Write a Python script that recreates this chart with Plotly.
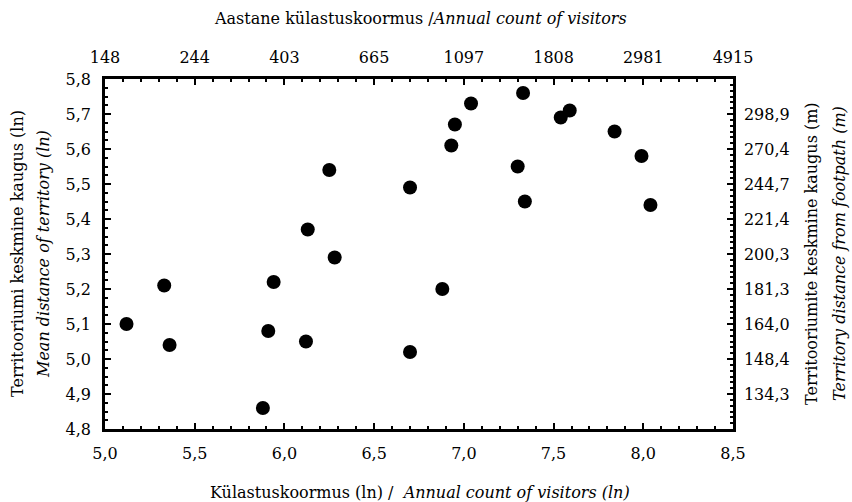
import numpy as np
import plotly.graph_objects as go

# ---- data ----
visitors_ln = [5.12, 5.33, 5.36, 5.88, 5.91, 5.94, 6.12, 6.13, 6.25, 6.28, 6.70, 6.70,
               6.88, 6.93, 6.95, 7.04, 7.30, 7.33, 7.34, 7.54, 7.59, 7.84, 7.99, 8.04]
distance_ln = [5.10, 5.21, 5.04, 4.86, 5.08, 5.22, 5.05, 5.37, 5.54, 5.29, 5.49, 5.02,
               5.20, 5.61, 5.67, 5.73, 5.55, 5.76, 5.45, 5.69, 5.71, 5.65, 5.58, 5.44]

x_ticks = [5.0, 5.5, 6.0, 6.5, 7.0, 7.5, 8.0, 8.5]
x_ticklabels = ["5,0", "5,5", "6,0", "6,5", "7,0", "7,5", "8,0", "8,5"]
top_ticklabels = ["148", "244", "403", "665", "1097", "1808", "2981", "4915"]

y_ticks = [4.8, 4.9, 5.0, 5.1, 5.2, 5.3, 5.4, 5.5, 5.6, 5.7, 5.8]
y_ticklabels = ["4,8", "4,9", "5,0", "5,1", "5,2", "5,3", "5,4", "5,5", "5,6", "5,7", "5,8"]
right_ticks = [4.9, 5.0, 5.1, 5.2, 5.3, 5.4, 5.5, 5.6, 5.7]
right_ticklabels = ["134,3", "148,4", "164,0", "181,3", "200,3", "221,4", "244,7", "270,4", "298,9"]

FONT = "DejaVu Serif"
FS = 16
TFS = 16
W, H = 852, 502
ML, MR, MT, MB = 105, 119, 79, 73
PW, PH = W - ML - MR, H - MT - MB


def px2paper_x(px):
    return (px - ML) / PW


def px2paper_y(py):
    return (H - MB - py) / PH


fig = go.Figure()
fig.add_trace(go.Scatter(
    x=visitors_ln, y=distance_ln, mode="markers",
    marker=dict(color="black", size=14, line=dict(width=0)),
    showlegend=False, hoverinfo="x+y"))
# invisible trace to activate secondary axes
fig.add_trace(go.Scatter(x=[visitors_ln[0]], y=[distance_ln[0]], xaxis="x2", yaxis="y2",
                         mode="markers", marker=dict(opacity=0), showlegend=False,
                         hoverinfo="skip"))

axis_common = dict(
    showline=True, linecolor="black", linewidth=2.5, ticks="inside",
    ticklen=6, tickwidth=2, tickcolor="black", showgrid=False, zeroline=False,
    tickfont=dict(family=FONT, size=FS, color="black"),
)

fig.update_layout(
    width=W, height=H,
    margin=dict(l=ML, r=MR, t=MT, b=MB, pad=0),
    paper_bgcolor="white", plot_bgcolor="white",
    font=dict(family=FONT, size=FS, color="black"),
    xaxis=dict(range=[5.0, 8.5], tickmode="array", tickvals=x_ticks, ticktext=x_ticklabels,
               minor=dict(dtick=0.1, tick0=5.0, ticks="inside", ticklen=3, tickwidth=1.5,
                          tickcolor="black"),
               ticklabelstandoff=8, **axis_common),
    xaxis2=dict(range=[5.0, 8.5], overlaying="x", side="top", tickmode="array",
                tickvals=x_ticks, ticktext=top_ticklabels,
                minor=dict(dtick=0.1, tick0=5.0, ticks="inside", ticklen=3, tickwidth=1.5,
                           tickcolor="black"),
                ticklabelstandoff=7, **axis_common),
    yaxis=dict(range=[4.8, 5.8], tickmode="array", tickvals=y_ticks, ticktext=y_ticklabels,
               minor=dict(dtick=0.025, tick0=4.8, ticks="inside", ticklen=3, tickwidth=1.5,
                          tickcolor="black"),
               ticklabelstandoff=8, **axis_common),
    yaxis2=dict(range=[4.8, 5.8], overlaying="y", side="right", tickmode="array",
                tickvals=right_ticks, ticktext=right_ticklabels,
                minor=dict(dtick=0.1 / 6, tick0=4.8, ticks="inside", ticklen=3, tickwidth=1.5,
                           tickcolor="black"),
                ticklabelstandoff=5, **axis_common),
)

ann_font = dict(family=FONT, size=TFS, color="black")
annotations = [
    dict(text="Aastane külastuskoormus /<i>Annual count of visitors</i>",
         x=px2paper_x(420), y=px2paper_y(19)),
    dict(text="Külastuskoormus (ln) /  <i>Annual count of visitors (ln)</i>",
         x=px2paper_x(420), y=px2paper_y(492)),
    dict(text="Territooriumi keskmine kaugus (ln)", textangle=-90,
         x=px2paper_x(17), y=px2paper_y(254)),
    dict(text="<i>Mean distance of territory (ln)</i>", textangle=-90,
         x=px2paper_x(43), y=px2paper_y(254)),
    dict(text="Territooriumite keskmine kaugus (m)", textangle=-90,
         x=px2paper_x(811), y=px2paper_y(254)),
    dict(text="<i>Territory distance from footpath (m)</i>", textangle=-90,
         x=px2paper_x(839), y=px2paper_y(254)),
]
for a in annotations:
    fig.add_annotation(xref="paper", yref="paper", xanchor="center", yanchor="middle",
                       showarrow=False, font=ann_font, **a)

fig.write_html("out.html")
